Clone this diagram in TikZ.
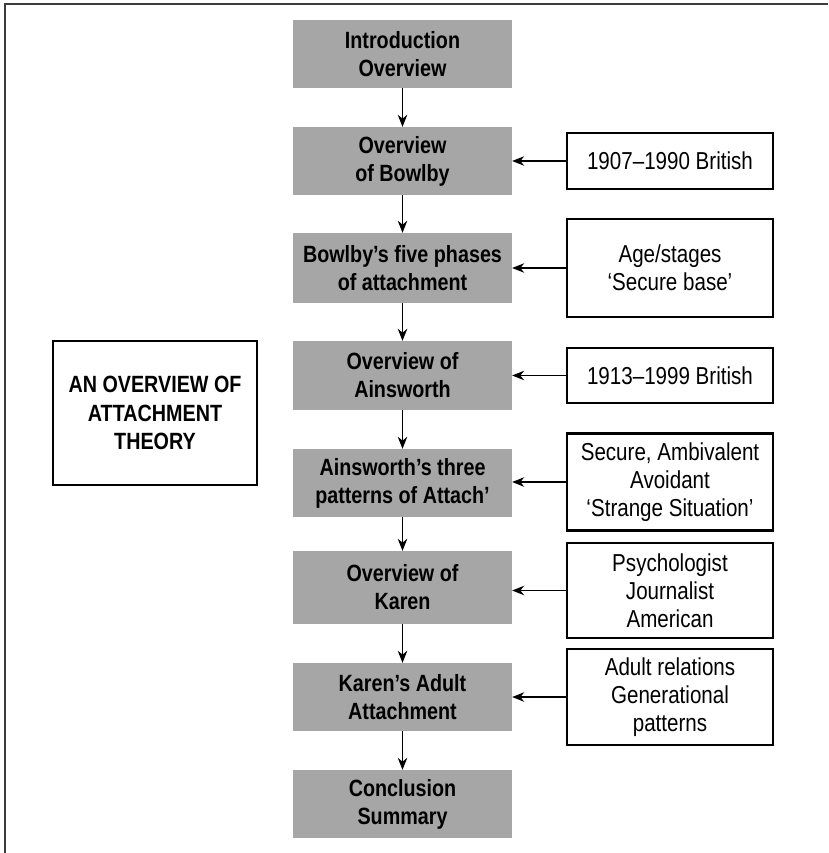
\documentclass[tikz,border=0pt]{standalone}
\usepackage{fontspec}
\setmainfont{Liberation Sans}[FakeStretch=0.84]
\usetikzlibrary{arrows.meta}
\definecolor{stagegray}{RGB}{166,166,166}
\definecolor{framegray}{RGB}{60,60,60}
\begin{document}
\begin{tikzpicture}[x=1pt,y=-1pt,
  every node/.style={align=center, inner sep=0pt, font=\fontsize{24.5}{28}\selectfont},
  stage/.style={fill=stagegray, minimum width=219pt, font=\fontsize{23.5}{28}\selectfont\bfseries},
  note/.style={draw=black, line width=2.2pt, fill=white, minimum width=206pt},
  titlebox/.style={draw=black, line width=2.2pt, fill=white, minimum width=204pt, minimum height=144pt,
    font=\fontsize{23.5}{28.5}\selectfont\bfseries},
  arr/.style={-{Stealth[length=12pt,width=9.5pt]}, line width=1.2pt}]
\useasboundingbox (0,0) rectangle (828,853);

% page frame (top and left edges)
\draw[framegray, line width=1.5pt] (5,853) -- (5,4) -- (828,4);

% main sequence of topics
\node[stage, minimum height=68pt] (b1) at (402.5,54)    {Introduction\\Overview};
\node[stage, minimum height=68pt] (b2) at (402.5,161)   {Overview\\of Bowlby};
\node[stage, minimum height=70pt] (b3) at (402.5,268)   {Bowlby’s five phases\\of attachment};
\node[stage, minimum height=69pt] (b4) at (402.5,375.5) {Overview of\\Ainsworth};
\node[stage, minimum height=68pt] (b5) at (402.5,483)   {Ainsworth’s three\\patterns of Attach’};
\node[stage, minimum height=73pt] (b6) at (402.5,587.5) {Overview of\\Karen};
\node[stage, minimum height=68pt] (b7) at (402.5,697)   {Karen’s Adult\\Attachment};
\node[stage, minimum height=68pt] (b8) at (402.5,804)   {Conclusion\\Summary};

% side notes
\node[note, minimum height=56pt] (r1) at (670,161)   {1907–1990 British};
\node[note, minimum height=98pt] (r2) at (670,268)   {Age/stages\\‘Secure base’};
\node[note, minimum height=55pt] (r3) at (670,375.5) {1913–1999 British};
\node[note, minimum height=97pt] (r4) at (670,482)   {Secure, Ambivalent\\Avoidant\\‘Strange Situation’};
\node[note, minimum height=95pt] (r5) at (670,590.5) {Psychologist\\Journalist\\American};
\node[note, minimum height=96pt] (r6) at (670,697)   {Adult relations\\Generational\\patterns};

% title
\node[titlebox] (t) at (155,413) {AN OVERVIEW OF\\ATTACHMENT\\THEORY};

% flow arrows
\foreach \a/\b in {b1/b2,b2/b3,b3/b4,b4/b5,b5/b6,b6/b7,b7/b8}
  \draw[arr] (\a.south) -- (\b.north);
\foreach \r/\b in {r1/b2,r2/b3,r3/b4,r4/b5,r5/b6,r6/b7}
  \draw[arr] (\r.west) -- (\r.west -| \b.east);
\end{tikzpicture}
\end{document}
